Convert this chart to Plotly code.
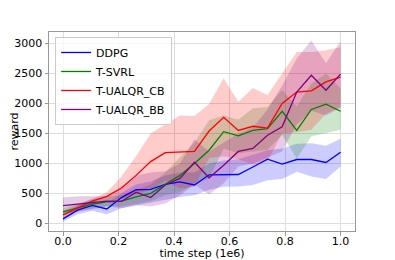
import numpy as np
import plotly.graph_objects as go

# time step (1e6)
steps = [0.0, 0.0526, 0.1053, 0.1579, 0.2105, 0.2632, 0.3158, 0.3684, 0.4211, 0.4737,
         0.5263, 0.5789, 0.6316, 0.6842, 0.7368, 0.7895, 0.8421, 0.8947, 0.9474, 1.0]

names = ["DDPG", "T-SVRL", "T-UALQR_CB", "T-UALQR_BB"]

ddpg_mean = [75, 220, 300, 240, 430, 560, 565, 650, 690, 640, 810, 815, 815, 940, 1070, 990, 1065, 1065, 1015, 1185]
ddpg_low = [25, 150, 210, 150, 250, 300, 350, 390, 440, 470, 560, 610, 615, 640, 720, 740, 860, 780, 740, 950]
ddpg_high = [130, 300, 380, 330, 500, 650, 700, 800, 850, 850, 1000, 1050, 1070, 1150, 1220, 1250, 1330, 1335, 1295, 1410]

svrl_mean = [190, 260, 320, 360, 370, 440, 500, 650, 800, 1000, 1220, 1530, 1460, 1550, 1580, 1870, 1550, 1900, 1990, 1870]
svrl_low = [130, 200, 250, 280, 280, 330, 370, 470, 520, 650, 750, 1250, 1170, 1200, 1230, 1480, 1080, 1450, 1500, 1560]
svrl_high = [250, 320, 400, 450, 470, 560, 650, 850, 1100, 1350, 1720, 1800, 1730, 1920, 1940, 2230, 1950, 2330, 2500, 2250]

cb_mean = [140, 260, 370, 450, 590, 800, 1030, 1180, 1190, 1200, 1540, 1770, 1550, 1620, 1590, 2000, 2190, 2210, 2360, 2440]
cb_low = [80, 210, 320, 380, 400, 480, 560, 710, 580, 610, 1090, 1120, 1070, 980, 1040, 1500, 1520, 1560, 1830, 1940]
cb_high = [200, 310, 420, 520, 780, 1120, 1500, 1650, 1800, 1790, 1990, 2420, 2030, 2260, 2140, 2500, 2860, 2860, 2890, 2940]

bb_mean = [295, 320, 340, 370, 365, 520, 430, 640, 750, 1020, 760, 970, 1200, 1250, 1470, 1610, 2190, 2470, 2220, 2490]
bb_low = [160, 190, 230, 290, 250, 300, 280, 330, 470, 650, 480, 670, 950, 1000, 1100, 1200, 1650, 1880, 1800, 1930]
bb_high = [430, 450, 450, 450, 600, 800, 850, 870, 1000, 1400, 1200, 1350, 1500, 1600, 1900, 2300, 2750, 3050, 2670, 3040]

x_ticks = [0.0, 0.2, 0.4, 0.6, 0.8, 1.0]
y_ticks = [0, 500, 1000, 1500, 2000, 2500, 3000]

series = [
    (names[0], ddpg_mean, ddpg_low, ddpg_high, (0, 0, 255)),
    (names[1], svrl_mean, svrl_low, svrl_high, (0, 128, 0)),
    (names[2], cb_mean, cb_low, cb_high, (255, 0, 0)),
    (names[3], bb_mean, bb_low, bb_high, (128, 0, 128)),
]

fig = go.Figure()
for name, m, lo, hi, c in series:
    fc = "rgba(%d,%d,%d,0.2)" % c
    fig.add_trace(go.Scatter(x=steps, y=hi, mode="lines", line=dict(width=0, color=fc),
                             showlegend=False, hoverinfo="skip"))
    fig.add_trace(go.Scatter(x=steps, y=lo, mode="lines", line=dict(width=0, color=fc),
                             fill="tonexty", fillcolor=fc, showlegend=False, hoverinfo="skip"))
for name, m, lo, hi, c in series:
    fig.add_trace(go.Scatter(x=steps, y=m, mode="lines", name=name,
                             line=dict(width=1.3, color="rgb(%d,%d,%d)" % c)))

axis_common = dict(showline=True, linecolor="#999999", linewidth=1, mirror=True,
                   showgrid=True, gridcolor="#dddddd", gridwidth=1, zeroline=False,
                   ticks="outside", ticklen=3.5, tickcolor="#999999", automargin=False,
                   tickfont=dict(family="DejaVu Sans", size=11, color="black"))

# page body has an 8px default margin; the figure is sized/placed to compensate
fig.update_layout(
    width=387, height=252,
    margin=dict(l=41, r=40, t=24, b=29),
    paper_bgcolor="white", plot_bgcolor="white",
    font=dict(family="DejaVu Sans", size=11, color="black"),
    showlegend=True,
    legend=dict(x=0.02, y=0.975, xanchor="left", yanchor="top", traceorder="normal",
                bgcolor="rgba(255,255,255,0.8)", bordercolor="#cccccc", borderwidth=1,
                font=dict(family="DejaVu Sans", size=11), tracegroupgap=0, itemwidth=30),
    xaxis=dict(range=[-0.0505, 1.052], tickvals=x_ticks,
               ticktext=["%.1f" % v for v in x_ticks], ticklabelstandoff=-4,
               title=dict(text="time step (1e6)", standoff=2,
                          font=dict(family="DejaVu Sans", size=11)),
               **axis_common),
    yaxis=dict(range=[-128, 3193], tickvals=y_ticks,
               title=dict(text="reward", standoff=2,
                          font=dict(family="DejaVu Sans", size=11)),
               **axis_common),
)

fig.write_html("out.html")
